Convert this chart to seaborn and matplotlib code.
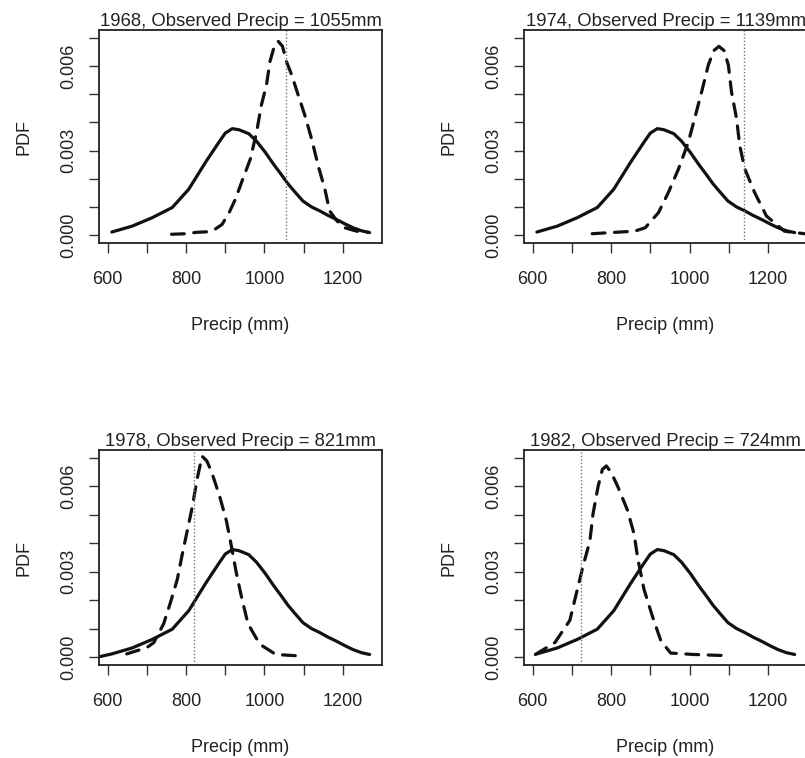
import matplotlib
matplotlib.use("Agg")
import matplotlib.pyplot as plt
import seaborn as sns

sns.set_style("ticks")
plt.rcParams['font.family'] = ['Liberation Sans', 'DejaVu Sans']

# Climatological PDF (solid) - same curve in every panel
clim_x = [611, 663, 714, 765, 807, 850, 884, 900, 918, 935, 960, 980, 1002, 1024,
          1045, 1060, 1079, 1098, 1120, 1141, 1162, 1183, 1205, 1226, 1248, 1268]
clim_y = [0.00011, 0.00032, 0.00062, 0.00098, 0.00163, 0.00259, 0.00330, 0.00362,
          0.00378, 0.00374, 0.00360, 0.00333, 0.00294, 0.00250, 0.00211, 0.00182,
          0.00151, 0.00121, 0.00100, 0.00086, 0.00070, 0.00056, 0.00040, 0.00026,
          0.00015, 0.00009]
# 1978 panel: solid curve reaches a bit further into the lower tail
clim_tail_1978_x = [582, 595]
clim_tail_1978_y = [0.00002, 0.00006]

years = [1968, 1974, 1978, 1982]
observed = [1055, 1139, 821, 724]

# Forecast PDFs (dashed)
fc_x_1968 = [763, 800, 827, 858, 875, 892, 910, 926, 945, 964, 980, 992, 1005, 1014,
             1025, 1035, 1046, 1056, 1069, 1082, 1103, 1120, 1137, 1154, 1166, 1185,
             1205, 1235, 1265]
fc_y_1968 = [0.00003, 0.00005, 0.00010, 0.00012, 0.00022, 0.00038, 0.00080, 0.00128,
             0.00200, 0.00270, 0.00366, 0.00461, 0.00532, 0.00616, 0.00670, 0.00688,
             0.00670, 0.00616, 0.00570, 0.00514, 0.00425, 0.00342, 0.00246, 0.00163,
             0.00086, 0.00050, 0.00026, 0.00014, 0.00010]

fc_x_1974 = [752, 811, 860, 887, 921, 946, 972, 997, 1014, 1031, 1048, 1062, 1075,
             1088, 1099, 1107, 1120, 1128, 1141, 1166, 1196, 1242, 1293]
fc_y_1974 = [0.00005, 0.00010, 0.00014, 0.00026, 0.00080, 0.00151, 0.00235, 0.00330,
             0.00419, 0.00509, 0.00604, 0.00655, 0.00670, 0.00655, 0.00604, 0.00509,
             0.00413, 0.00318, 0.00235, 0.00151, 0.00068, 0.00014, 0.00005]

fc_x_1978 = [649, 700, 718, 743, 760, 778, 790, 803, 816, 828, 841, 853, 866, 886,
             903, 915, 928, 941, 958, 988, 1029, 1099]
fc_y_1978 = [0.00011, 0.00033, 0.00051, 0.00117, 0.00190, 0.00274, 0.00358, 0.00443,
             0.00528, 0.00624, 0.00706, 0.00690, 0.00648, 0.00564, 0.00479, 0.00395,
             0.00298, 0.00214, 0.00117, 0.00045, 0.00009, 0.00003]

fc_x_1982 = [607, 657, 695, 712, 729, 746, 754, 767, 778, 788, 800, 817, 842, 859,
             868, 884, 906, 927, 952, 1011, 1070, 1103]
fc_y_1982 = [0.00009, 0.00051, 0.00129, 0.00226, 0.00322, 0.00407, 0.00503, 0.00600,
             0.00660, 0.00672, 0.00650, 0.00600, 0.00516, 0.00431, 0.00347, 0.00238,
             0.00141, 0.00057, 0.00014, 0.00009, 0.00006, 0.00005]

fc_x = [fc_x_1968, fc_x_1974, fc_x_1978, fc_x_1982]
fc_y = [fc_y_1968, fc_y_1974, fc_y_1978, fc_y_1982]

x_ticks = [600, 700, 800, 900, 1000, 1100, 1200]
x_ticklabels = ['600', '', '800', '', '1000', '', '1200']
y_ticks = [0.000, 0.001, 0.002, 0.003, 0.004, 0.005, 0.006, 0.007]
y_ticklabels = ['0.000', '', '', '0.003', '', '', '0.006', '']

fig = plt.figure(figsize=(8.05, 7.58), dpi=100)
positions = [[0.123, 0.6794, 0.3516, 0.281],
             [0.651, 0.6794, 0.3516, 0.281],
             [0.123, 0.1227, 0.3516, 0.2836],
             [0.651, 0.1227, 0.3516, 0.2836]]

ink = '#111111'
for i, year in enumerate(years):
    ax = fig.add_axes(positions[i])
    sx, sy = clim_x, clim_y
    if year == 1978:
        sx = clim_tail_1978_x + clim_x
        sy = clim_tail_1978_y + clim_y
    sns.lineplot(x=sx, y=sy, ax=ax, color=ink, linewidth=2.3,
                 solid_joinstyle='round', solid_capstyle='round')
    sns.lineplot(x=fc_x[i], y=fc_y[i], ax=ax, color=ink, linewidth=2.3,
                 linestyle=(0, (4, 3)), dash_capstyle='round', dash_joinstyle='round')
    ax.axvline(observed[i], color='#777777', linewidth=1.0, linestyle=(0, (1, 1.5)))

    # R-style 4% padding
    ax.set_xlim(605 - 0.04 * 668, 1273 + 0.04 * 668)
    ax.set_ylim(-0.04 * 0.007, 0.007 * 1.04)
    ax.set_xticks(x_ticks)
    ax.set_xticklabels(x_ticklabels)
    ax.set_yticks(y_ticks)
    ax.set_yticklabels(y_ticklabels)
    ax.tick_params(axis='both', length=7, width=1.0, color='#333333',
                   labelsize=13, labelcolor='#222222', direction='out')
    ax.tick_params(axis='x', pad=13)
    ax.tick_params(axis='y', pad=9, labelrotation=90)
    for lab in ax.get_yticklabels():
        lab.set_va('center')
    for sp in ax.spines.values():
        sp.set_visible(True)
        sp.set_linewidth(1.3)
        sp.set_color('#222222')

    ax.set_title(f'{year}, Observed Precip = {observed[i]}mm', fontsize=13.3,
                 pad=1.8, color='#222222')
    ax.set_xlabel('Precip (mm)', fontsize=13, color='#222222')
    ax.xaxis.set_label_coords(0.5, -0.385)
    ax.xaxis.label.set_va('center')
    ax.set_ylabel('PDF', fontsize=13, color='#222222')
    ax.yaxis.set_label_coords(-0.265, 0.5)
    ax.yaxis.label.set_va('center')

fig.savefig('out.png', dpi=100)
plt.close()
